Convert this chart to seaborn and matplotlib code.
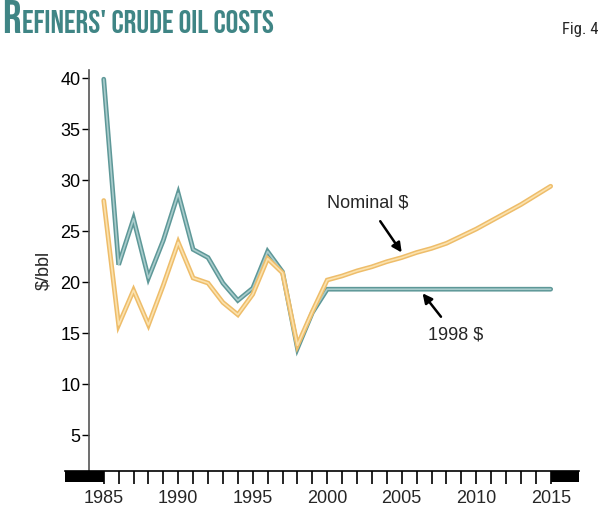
import matplotlib
matplotlib.use("Agg")
import matplotlib.pyplot as plt
import seaborn as sns
import pandas as pd

# values ($/bbl)
years = list(range(1985, 2016))
real_1998 = [39.9, 21.7, 26.2, 20.4, 24.1, 28.7, 23.2, 22.4, 19.9, 18.2,
             19.4, 23.0, 21.0, 13.5, 17.0, 19.3, 19.3, 19.3, 19.3, 19.3,
             19.3, 19.3, 19.3, 19.3, 19.3, 19.3, 19.3, 19.3, 19.3, 19.3, 19.3]
nominal = [28.0, 15.8, 19.2, 15.8, 19.7, 23.9, 20.4, 19.9, 18.0, 16.8,
           18.8, 22.3, 20.9, 13.8, 17.1, 20.2, 20.6, 21.1, 21.5, 22.0,
           22.4, 22.9, 23.3, 23.8, 24.5, 25.2, 26.0, 26.8, 27.6, 28.5, 29.4]
yticks = [5, 10, 15, 20, 25, 30, 35, 40]
xlabels = [1985, 1990, 1995, 2000, 2005, 2010, 2015]

df = pd.DataFrame({"year": years, "real": real_1998, "nominal": nominal})

sns.set_style("white")
plt.rcParams["font.family"] = ["Liberation Sans", "DejaVu Sans"]
narrow = ["Bebas Neue", "Oswald", "Roboto Condensed", "DejaVu Sans"]
narrow_light = ["Roboto Condensed", "Sofia Sans Condensed", "Oswald", "DejaVu Sans"]

W, H = 600, 508
fig = plt.figure(figsize=(6, 5.08), dpi=100)
fig.patch.set_facecolor("white")

x0, x1 = 1982.4, 2016.9
ax = fig.add_axes([65 / W, 37 / H, 514 / W, 401 / H])
band = fig.add_axes([65 / W, 26 / H, 514 / W, 11 / H])

teal_dark, teal_light = "#5e9898", "#a9cccc"
gold_dark, gold_light = "#eebd6a", "#fbe2ae"

sns.lineplot(data=df, x="year", y="real", ax=ax, color=teal_dark, lw=3.4,
             solid_joinstyle="miter", solid_capstyle="round")
sns.lineplot(data=df, x="year", y="real", ax=ax, color=teal_light, lw=1.2)
sns.lineplot(data=df, x="year", y="nominal", ax=ax, color=gold_dark, lw=3.4,
             solid_joinstyle="miter", solid_capstyle="round")
sns.lineplot(data=df, x="year", y="nominal", ax=ax, color=gold_light, lw=1.2)

ax.set_xlim(x0, x1)
ax.set_ylim(1.47, 40.8)
ax.set_xlabel("")
ax.set_ylabel("$/bbl", fontsize=13, labelpad=6)
ax.set_xticks([])
ax.set_yticks(yticks)
ax.tick_params(axis="y", length=5, width=1, colors="black", labelsize=13, pad=1,
               left=True)
for s in ["top", "right", "bottom"]:
    ax.spines[s].set_visible(False)
ax.spines["left"].set_position(("data", 1984.0))
ax.spines["left"].set_color("#555555")
ax.spines["left"].set_linewidth(1.2)
ax.set_facecolor("none")

# annotations
arrow = dict(arrowstyle="-|>", color="black", lw=1.8, shrinkA=6, shrinkB=0,
             mutation_scale=14)
ax.annotate("Nominal $", xy=(2005.0, 22.9), xytext=(2002.7, 27.8),
            fontsize=13, ha="center", va="center", arrowprops=arrow)
ax.annotate("1998 $", xy=(2006.4, 18.9), xytext=(2008.6, 14.8),
            fontsize=13, ha="center", va="center", arrowprops=arrow)

# bottom time band
band.set_xlim(x0, x1)
band.set_ylim(0, 1)
band.axvspan(x0, xlabels[0], color="black", lw=0)
band.axvspan(xlabels[-1], x1, color="black", lw=0)
for s in ["left", "right", "bottom"]:
    band.spines[s].set_visible(False)
band.spines["top"].set_color("black")
band.spines["top"].set_linewidth(1.2)
band.set_yticks([])
band.set_xticks(xlabels)
band.set_xticks(years, minor=True)
band.tick_params(axis="x", which="both", top=True, bottom=False,
                 direction="in", length=9, width=1.2, color="black")
band.tick_params(axis="x", which="major", labelbottom=True, labelsize=13, pad=6)
band.set_facecolor("none")

# title: big first capital, small caps for the rest, fitted to the reference width
size = 18.0
t1 = fig.text(2 / W, 1 - 33 / H, "R", fontsize=size * 1.45, fontweight="bold",
              color="#3f8585", family=narrow, va="baseline")
t2 = fig.text(0, 1 - 33 / H, "EFINERS' CRUDE OIL COSTS", fontsize=size,
              fontweight="bold", color="#3f8585", family=narrow, va="baseline")
for _ in range(3):
    fig.canvas.draw()
    b1 = t1.get_window_extent()
    t2.set_x((b1.x1 + 1) / W)
    fig.canvas.draw()
    b2 = t2.get_window_extent()
    total = b2.x1 - b1.x0
    size *= 271 / total
    t1.set_fontsize(size * 1.45)
    t2.set_fontsize(size)
fig.canvas.draw()
t2.set_x((t1.get_window_extent().x1 + 1) / W)

fig.text(599 / W, 1 - 34 / H, "Fig. 4", fontsize=12, ha="right", va="baseline",
         family=narrow_light)

fig.savefig("out.png", dpi=100, facecolor="white")
